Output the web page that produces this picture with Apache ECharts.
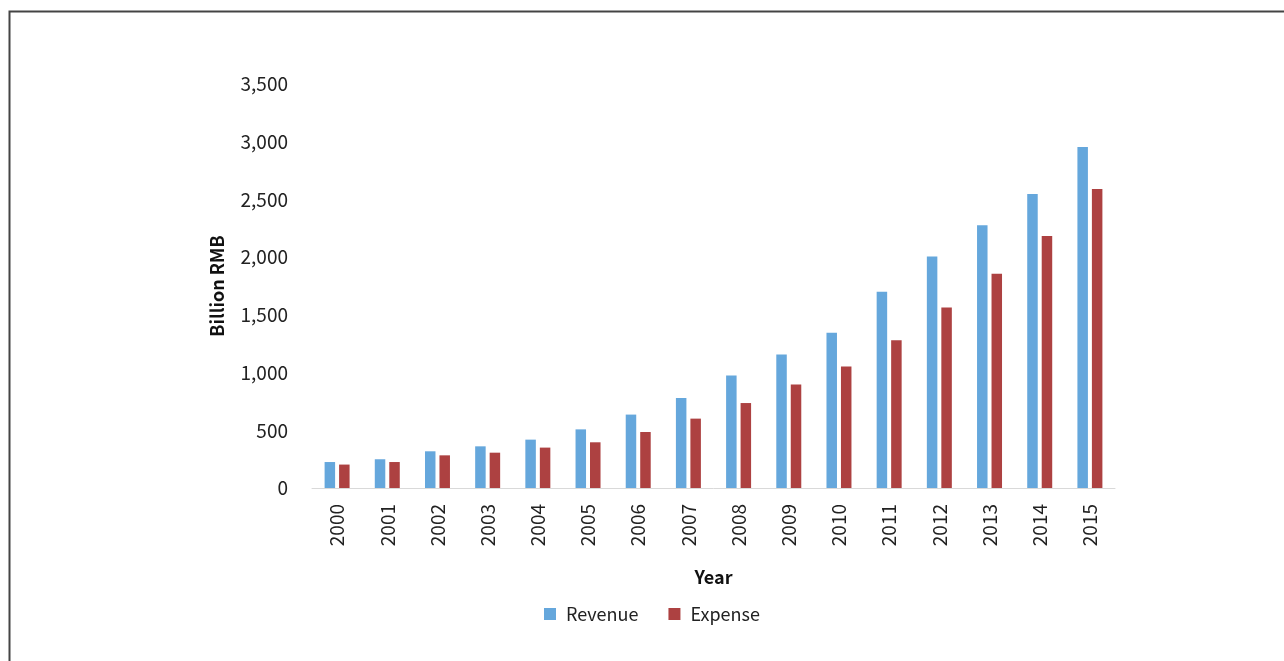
<!DOCTYPE html>
<html>
<head>
<meta charset="utf-8">
<script src="https://cdn.jsdelivr.net/npm/echarts@6/dist/echarts.min.js"></script>
<style>
  html, body { margin: 0; padding: 0; background: #fff; }
  #chart { width: 1284px; height: 661px; }
</style>
</head>
<body>
<div id="chart"></div>
<script>
// Fiscal revenue and expense, billion RMB
const years = ['2000','2001','2002','2003','2004','2005','2006','2007',
               '2008','2009','2010','2011','2012','2013','2014','2015'];
const revenue = [225, 249, 318, 361, 419, 508, 636, 780,
                 974, 1156, 1346, 1701, 2005, 2276, 2547, 2954];
const expense = [203, 225, 283, 306, 350, 396, 485, 601,
                 736, 896, 1052, 1280, 1563, 1857, 2183, 2590];

const FONT = '"Noto Sans CJK KR", "Noto Sans", sans-serif';

const chart = echarts.init(document.getElementById('chart'));
chart.setOption({
  animation: false,
  backgroundColor: '#ffffff',
  textStyle: { fontFamily: FONT },
  graphic: [{
    type: 'polyline',
    shape: { points: [[9.5, 661], [9.5, 11.5], [1284, 11.5]] },
    style: { stroke: '#444', lineWidth: 2, fill: null }
  }],
  grid: { left: 312, right: 169, top: 84, bottom: 173 },
  legend: {
    bottom: 33,
    left: 539,
    itemWidth: 12,
    itemHeight: 12,
    itemGap: 30,
    icon: 'rect',
    textStyle: { fontSize: 18, color: '#222', fontFamily: FONT, padding: [0, 0, 0, 5] },
    data: ['Revenue', 'Expense']
  },
  xAxis: {
    type: 'category',
    data: years,
    name: 'Year',
    nameLocation: 'middle',
    nameGap: 80,
    nameTextStyle: { fontSize: 18, fontWeight: 'bold', color: '#111', fontFamily: FONT },
    axisLine: { lineStyle: { color: '#d9d9d9', width: 1 } },
    axisTick: { show: false },
    axisLabel: { rotate: 90, fontSize: 19, color: '#222', margin: 16, fontFamily: FONT }
  },
  yAxis: {
    type: 'value',
    min: 0,
    max: 3500,
    interval: 500,
    name: 'Billion RMB',
    nameLocation: 'middle',
    nameGap: 86,
    nameTextStyle: { fontSize: 18, fontWeight: 'bold', color: '#111', fontFamily: FONT },
    axisLine: { show: false },
    axisTick: { show: false },
    splitLine: { show: false },
    axisLabel: {
      fontSize: 19, color: '#222', margin: 24, fontFamily: FONT,
      formatter: v => v.toLocaleString('en-US')
    }
  },
  series: [
    {
      name: 'Revenue', type: 'bar', data: revenue,
      barWidth: 10.5, barGap: '38%',
      itemStyle: { color: '#65A7DC' }
    },
    {
      name: 'Expense', type: 'bar', data: expense,
      barWidth: 10.5,
      itemStyle: { color: '#AD4141' }
    }
  ]
});
</script>
</body>
</html>
